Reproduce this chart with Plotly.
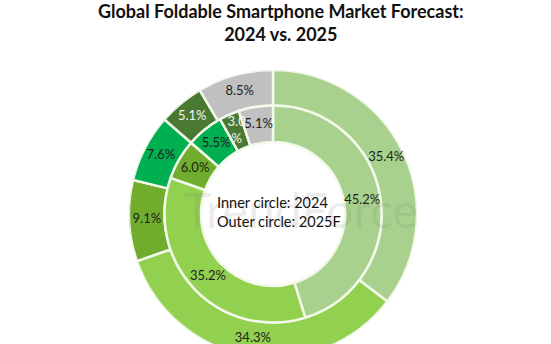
import plotly.graph_objects as go

categories = ["A", "B", "C", "D", "E", "Others"]
share_2024 = [45.2, 35.2, 6.0, 5.5, 3.0, 5.1]
share_2025 = [35.4, 34.3, 9.1, 7.6, 5.1, 8.5]
labels_2024 = ["45.2%", "35.2%", "6.0%", "5.5%", "3.0<br>%", "5.1%"]
labels_2025 = ["35.4%", "34.3%", "9.1%", "7.6%", "5.1%", "8.5%"]
colors = ["#a9d18e", "#92d050", "#70ad2c", "#00b050", "#4a7a32", "#c0c0c0"]
text_colors_2024 = ["#1e1e1e", "#1e1e1e", "#1e1e1e", "#1e1e1e", "#f4f4f4", "#1e1e1e"]
text_colors_2025 = ["#1e1e1e", "#1e1e1e", "#1e1e1e", "#1e1e1e", "#f4f4f4", "#1e1e1e"]

W, H = 551, 360
cx, cy = 273.0, 214.0
r_out, r_mid, r_in = 144.0, 108.5, 72.0


def mid_angles(vals):
    out, acc = [], 0.0
    for v in vals:
        out.append((acc + v / 2) * 3.6)
        acc += v
    return out


widths_2024 = [v * 3.6 for v in share_2024]
widths_2025 = [v * 3.6 for v in share_2025]
theta_2024 = mid_angles(share_2024)
theta_2025 = mid_angles(share_2025)

font_family = "Lato, 'Open Sans', sans-serif"
sep = dict(color="#f3f9ea", width=2.5)

fig = go.Figure()
fig.add_trace(go.Barpolar(
    theta=theta_2025, r=[r_out - r_mid] * len(share_2025), base=r_mid,
    width=widths_2025, marker=dict(color=colors, line=sep),
    customdata=share_2025, hovertext=categories,
    hovertemplate="%{hovertext}: %{customdata}%<extra>2025F</extra>",
    showlegend=False,
))
fig.add_trace(go.Barpolar(
    theta=theta_2024, r=[r_mid - r_in] * len(share_2024), base=r_in,
    width=widths_2024, marker=dict(color=colors, line=sep),
    customdata=share_2024, hovertext=categories,
    hovertemplate="%{hovertext}: %{customdata}%<extra>2024</extra>",
    showlegend=False,
))
fig.add_trace(go.Scatterpolar(
    theta=theta_2025, r=[(r_out + r_mid) / 2] * len(share_2025), mode="text",
    text=labels_2025, textfont=dict(family=font_family, size=13, color=text_colors_2025),
    hoverinfo="skip", showlegend=False,
))
fig.add_trace(go.Scatterpolar(
    theta=theta_2024, r=[(r_mid + r_in) / 2] * len(share_2024), mode="text",
    text=labels_2024, textfont=dict(family=font_family, size=13, color=text_colors_2024),
    hoverinfo="skip", showlegend=False,
))

fig.update_layout(
    width=W, height=H, margin=dict(l=0, r=0, t=0, b=0),
    paper_bgcolor="white", plot_bgcolor="white",
    polar=dict(
        domain=dict(x=[(cx - r_out) / W, (cx + r_out) / W],
                    y=[max(0.0, (H - cy - r_out) / H), (H - cy + r_out) / H]),
        bgcolor="rgba(0,0,0,0)", hole=0,
        radialaxis=dict(range=[0, r_out], visible=False, showgrid=False),
        angularaxis=dict(rotation=90, direction="clockwise", visible=False, showgrid=False),
    ),
)

fig.add_annotation(
    text="TrendForce", x=300 / W, y=(H - 210) / H, xref="paper", yref="paper",
    showarrow=False, font=dict(family=font_family, size=48, color="rgba(110,110,110,0.13)"),
)
fig.add_annotation(
    text="Inner circle: 2024<br>Outer circle: 2025F", align="left",
    x=215 / W, y=(H - 212) / H, xref="paper", yref="paper", xanchor="left", yanchor="middle",
    showarrow=False, font=dict(family=font_family, size=14.5, color="#111111"),
)
fig.add_annotation(
    text="<b>Global Foldable Smartphone Market Forecast:<br>2024 vs. 2025</b>",
    x=281 / W, y=1 + 2 / H, xref="paper", yref="paper", xanchor="center", yanchor="top",
    showarrow=False, font=dict(family=font_family, size=18, color="#111111"),
)
fig.write_html("out.html")
